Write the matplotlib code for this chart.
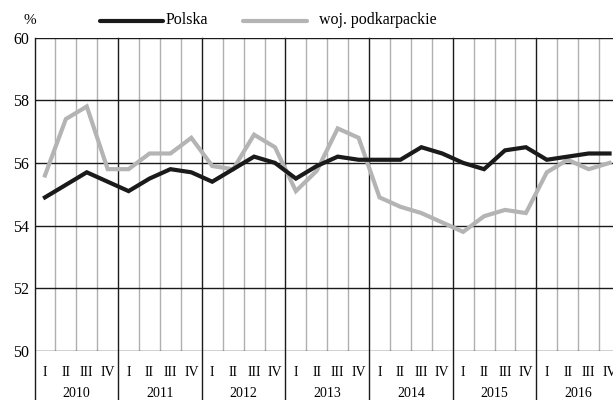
import matplotlib
matplotlib.use("Agg")
import matplotlib.pyplot as plt
import matplotlib.transforms as mtransforms
from matplotlib.lines import Line2D

plt.rcParams['font.family'] = ['Liberation Serif', 'DejaVu Serif']

# dane kwartalne 2010-2016
lata = ['2010', '2011', '2012', '2013', '2014', '2015', '2016']
kwartaly = ['I', 'II', 'III', 'IV']
polska = [54.9, 55.3, 55.7, 55.4, 55.1, 55.5, 55.8, 55.7,
          55.4, 55.8, 56.2, 56.0, 55.5, 55.9, 56.2, 56.1,
          56.1, 56.1, 56.5, 56.3, 56.0, 55.8, 56.4, 56.5,
          56.1, 56.2, 56.3, 56.3]
podkarpackie = [55.6, 57.4, 57.8, 55.8, 55.8, 56.3, 56.3, 56.8,
                55.9, 55.8, 56.9, 56.5, 55.1, 55.75, 57.1, 56.8,
                54.9, 54.6, 54.4, 54.1, 53.8, 54.3, 54.5, 54.4,
                55.7, 56.1, 55.8, 56.0]
y_ticks = [50, 52, 54, 56, 58, 60]

n = len(polska)
x = [i + 0.5 for i in range(n)]

fig = plt.figure(figsize=(6.13, 4.0), dpi=100)
ax = fig.add_axes([34.5 / 613, 1 - 351 / 400, (620 - 34.5) / 613, (351 - 37.5) / 400])

ax.set_xlim(0, n)
ax.set_ylim(50, 60)

# siatka: kwartaly szare, lata czarne
for i in range(1, n):
    if i % 4 == 0:
        continue
    ax.axvline(i, color='#b0b0b0', lw=1.0, zorder=1)
for yv in y_ticks:
    ax.axhline(yv, color='#1a1a1a', lw=1.0, zorder=1)

trans = mtransforms.blended_transform_factory(ax.transData, ax.transAxes)
for i in range(0, n + 1, 4):
    ax.plot([i, i], [-0.16, 1], color='#1a1a1a', lw=1.0, transform=trans,
            clip_on=False, zorder=2)

ax.plot(x, podkarpackie, color='#b4b4b4', lw=3.0, zorder=3, solid_joinstyle='miter')
ax.plot(x, polska, color='#1a1a1a', lw=3.0, zorder=4, solid_joinstyle='miter')

for s in ax.spines.values():
    s.set_visible(False)

ax.set_xticks([])
ax.set_yticks(y_ticks)
ax.set_yticklabels([str(v) for v in y_ticks], fontsize=11.5)
ax.tick_params(axis='y', length=0, pad=4)

# opisy osi x
for i in range(n):
    ax.text(x[i], -0.07, kwartaly[i % 4], transform=trans, ha='center', va='center',
            fontsize=10)
for k, rok in enumerate(lata):
    ax.text(k * 4 + 2, -0.137, rok, transform=trans, ha='center', va='center',
            fontsize=10)

fig.text(30 / 613, 1 - 20 / 400, '%', ha='center', va='center', fontsize=11)

# legenda
fig.add_artist(Line2D([100 / 613, 163 / 613], [1 - 21 / 400, 1 - 21 / 400],
                      color='#1a1a1a', lw=3.0, solid_capstyle='round'))
fig.text(166 / 613, 1 - 20 / 400, 'Polska', ha='left', va='center', fontsize=11.5)
fig.add_artist(Line2D([243 / 613, 307 / 613], [1 - 21 / 400, 1 - 21 / 400],
                      color='#b4b4b4', lw=3.0, solid_capstyle='round'))
fig.text(319 / 613, 1 - 20 / 400, 'woj. podkarpackie', ha='left', va='center', fontsize=11.5)

fig.savefig('out.png', dpi=100)
